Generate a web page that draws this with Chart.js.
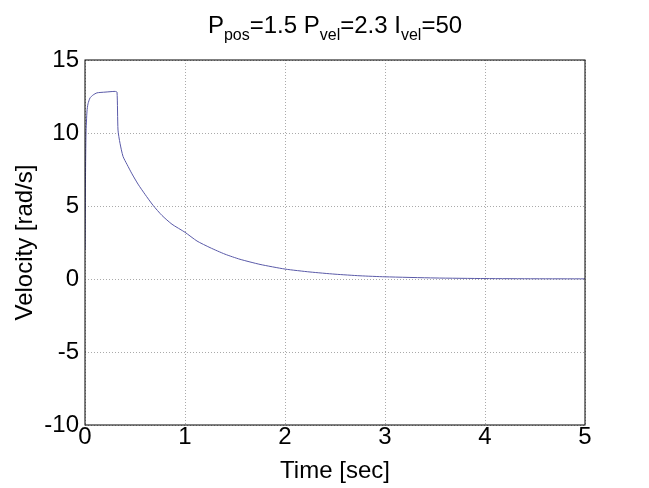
<!DOCTYPE html>
<html><head><meta charset="utf-8">
<script src="https://cdn.jsdelivr.net/npm/chart.js@4"></script>
<style>body{margin:0;background:#fff}#wrap{width:649px;height:488px}</style>
</head><body><div id="wrap"><canvas id="c"></canvas></div>
<script>
const times = [0,0.005,0.01,0.02,0.03,0.05,0.08,0.12,0.2,0.3,0.32,0.33,0.35,0.38,0.42,0.47,0.53,0.6,0.68,0.77,0.87,1,1.12,1.25,1.4,1.55,1.75,2,2.25,2.5,2.75,3,3.5,4,4.5,5];
const velocity = [2,7,10,11.5,12,12.4,12.6,12.75,12.8,12.85,12.8,10.2,9.3,8.4,7.85,7.2,6.5,5.8,5.05,4.35,3.75,3.2,2.6,2.15,1.7,1.35,1.0,0.68,0.48,0.33,0.22,0.15,0.07,0.03,0.015,0.01];
const xTicks = [0,1,2,3,4,5];
const yTicks = [-10,-5,0,5,10,15];

const FONT = 'Liberation Sans, Arial, sans-serif';

const labels = {
  id: 'labels',
  afterDraw(chart) {
    const ctx = chart.ctx, a = chart.chartArea;
    ctx.save();
    ctx.fillStyle = '#000';
    ctx.strokeStyle = '#000'; ctx.lineWidth = 1;
    ctx.strokeRect(a.left, a.top, a.right - a.left, a.bottom - a.top);
    // title with subscripts
    const parts = [['P',0],['pos',1],['=1.5 P',0],['vel',1],['=2.3 I',0],['vel',1],['=50',0]];
    let w = 0;
    parts.forEach(p => { ctx.font = (p[1] ? 16 : 24) + 'px ' + FONT; w += ctx.measureText(p[0]).width; });
    let x = (a.left + a.right) / 2 - w / 2;
    ctx.textBaseline = 'alphabetic'; ctx.textAlign = 'left';
    parts.forEach(p => {
      ctx.font = (p[1] ? 16 : 24) + 'px ' + FONT;
      ctx.fillText(p[0], x, p[1] ? 40 : 33);
      x += ctx.measureText(p[0]).width;
    });
    // axis titles
    ctx.font = '24px ' + FONT; ctx.textAlign = 'center';
    ctx.fillText('Time [sec]', (a.left + a.right) / 2, 478);
    ctx.translate(32, (a.top + a.bottom) / 2);
    ctx.rotate(-Math.PI / 2);
    ctx.fillText('Velocity [rad/s]', 0, 0);
    ctx.restore();
  }
};

new Chart(document.getElementById('c'), {
  type: 'line',
  data: { datasets: [{
    data: times.map((t, i) => ({ x: t, y: velocity[i] })),
    borderColor: '#5a5aa8', borderWidth: 1, pointRadius: 0, tension: 0.2
  }]},
  options: {
    responsive: true, maintainAspectRatio: false, animation: false,
    layout: { padding: { top: 60, right: 64 } },
    plugins: { legend: { display: false }, tooltip: { enabled: false } },
    scales: {
      x: {
        type: 'linear', min: 0, max: 5,
        afterBuildTicks: s => { s.ticks = xTicks.map(v => ({ value: v })); },
        afterFit: s => { s.height = 63; },
        grid: { color: '#aaa', drawTicks: false },
        border: { display: false, dash: [1, 2] },
        ticks: { color: '#000', font: { family: FONT, size: 24 }, padding: -2, maxRotation: 0 }
      },
      y: {
        min: -10, max: 15,
        afterBuildTicks: s => { s.ticks = yTicks.map(v => ({ value: v })); },
        afterFit: s => { s.width = 85; },
        grid: { color: '#aaa', drawTicks: false },
        border: { display: false, dash: [1, 2] },
        ticks: { color: '#000', font: { family: FONT, size: 24 }, padding: 6 }
      }
    }
  },
  plugins: [labels]
});
</script></body></html>
